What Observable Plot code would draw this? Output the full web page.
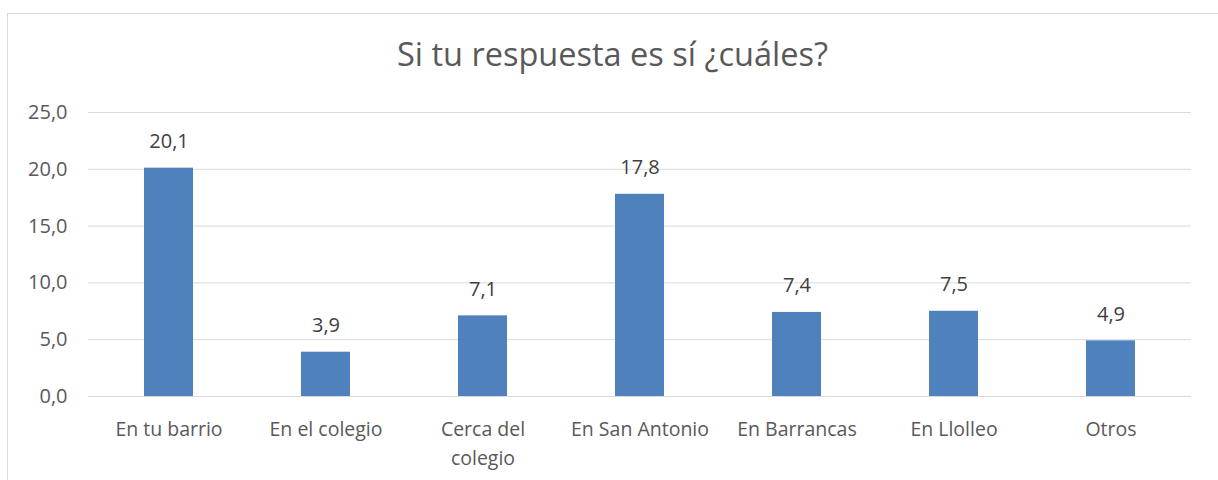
<!DOCTYPE html>
<html>
<head>
<meta charset="utf-8">
<script src="https://cdn.jsdelivr.net/npm/d3@7"></script>
<script src="https://cdn.jsdelivr.net/npm/@observablehq/plot@0.6"></script>
<style>
  html, body { margin: 0; padding: 0; background: #fff; }
  body { width: 1218px; height: 480px; position: relative; overflow: hidden; font-family: "Open Sans", sans-serif; }
  #frame { position: absolute; left: 7px; top: 13px; width: 1212px; height: 480px; border: 1.5px solid #d9d9d9; box-sizing: border-box; }
  #title { position: absolute; left: 7px; width: 1211px; top: 34px; text-align: center; font-size: 32.5px; color: #595959; line-height: 40px; white-space: nowrap; }
  #chart { position: absolute; left: 0; top: 0; }
</style>
</head>
<body>
<div id="frame"></div>
<div id="title">Si tu respuesta es sí ¿cuáles?</div>
<div id="chart"></div>
<script>
const categories = ["En tu barrio", "En el colegio", "Cerca del colegio", "En San Antonio", "En Barrancas", "En Llolleo", "Otros"];
const categoryLabels = ["En tu barrio", "En el colegio", "Cerca del\ncolegio", "En San Antonio", "En Barrancas", "En Llolleo", "Otros"];
const values = [20.1, 3.9, 7.1, 17.8, 7.4, 7.5, 4.9];
const yTicks = [0, 5, 10, 15, 20, 25];

const data = categories.map((c, i) => ({category: c, value: values[i]}));
const fmt = v => v.toFixed(1).replace(".", ",");
const labelOf = new Map(categories.map((c, i) => [c, categoryLabels[i]]));

const chart = Plot.plot({
  width: 1218,
  height: 480,
  marginLeft: 88,
  marginRight: 27,
  marginTop: 112,
  marginBottom: 84,
  style: {fontFamily: "'Open Sans', sans-serif", fontSize: "19px", color: "#595959", background: "transparent"},
  x: {domain: categories, paddingInner: 0.69, paddingOuter: 0.345, label: null},
  y: {domain: [0, 25], ticks: yTicks, label: null},
  marks: [
    Plot.gridY(yTicks, {stroke: "#d9d9d9", strokeOpacity: 1, strokeWidth: 1}),
    Plot.barY(data, {x: "category", y: "value", fill: "#4f81bd"}),
    Plot.ruleY([0], {stroke: "#d9d9d9", strokeWidth: 1.2}),
    Plot.text(data, {x: "category", y: "value", text: d => fmt(d.value), dy: -20, lineAnchor: "bottom", fill: "#404040", fontSize: 20}),
    Plot.axisY(yTicks, {tickSize: 0, tickPadding: 21, tickFormat: fmt, fontSize: 20, fill: "#595959", label: null}),
    Plot.axisX({tickSize: 0, tickPadding: 19, tickFormat: d => labelOf.get(d), fontSize: 19.5, fill: "#595959", lineHeight: 1.49, label: null})
  ]
});
document.getElementById("chart").appendChild(chart);
</script>
</body>
</html>
